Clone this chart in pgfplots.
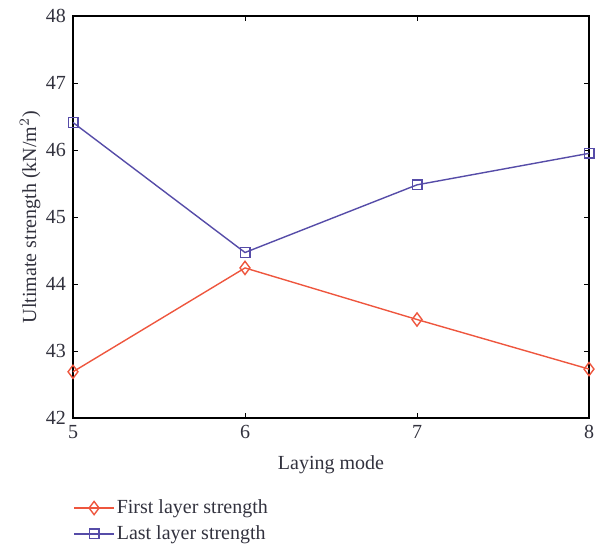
\documentclass[border=0pt]{standalone}
\usepackage{pgfplots}
\pgfplotsset{compat=1.18}
\usepackage{fontspec}
\setmainfont{Liberation Serif}
\definecolor{firstc}{RGB}{238,86,62}
\definecolor{lastc}{RGB}{86,76,168}
\definecolor{txt}{RGB}{50,50,62}
\begin{document}
\begin{tikzpicture}
\begin{axis}[
    width=258pt, height=201pt, scale only axis,
    xmin=5, xmax=8, ymin=42, ymax=48,
    xtick={5,6,7,8}, ytick={42,43,...,48},
    tick align=inside, major tick length=2.5pt,
    axis line style={line width=1.2pt},
    tick style={black, line width=0.5pt},
    xlabel={Laying mode},
    ylabel={Ultimate strength (kN/m$^2$)},
    font=\fontsize{10}{12}\selectfont,
    tick label style={font=\fontsize{10}{12}\selectfont, text=txt},
    label style={text=txt},
    /pgf/number format/assume math mode=true,
    xlabel style={at={(axis description cs:0.5,-0.117)}, anchor=center},
    ylabel style={at={(axis description cs:-0.083,0.5)}, anchor=center},
    legend style={at={(axis description cs:0,-0.197)}, anchor=north west,
        draw=none, fill=none, font=\fontsize{10}{12}\selectfont, text=txt,
        row sep=2.5pt, inner sep=0pt, nodes={inner sep=1pt}},
    legend image code/.code={
        \draw[mark repeat=2, mark phase=2] plot coordinates {(0pt,0pt) (10pt,0pt) (20pt,0pt)};},
    legend cell align=left,
    clip=false,
]
\addplot[firstc, line width=0.7pt, mark=diamond, mark size=3.3pt,
    mark options={solid, line width=0.7pt, fill=white}] coordinates {
    (5,42.69) (6,44.24) (7,43.47) (8,42.73)
};
\addlegendentry{First layer strength}
\addplot[lastc, line width=0.7pt, mark=square, mark size=2.4pt,
    mark options={solid, line width=0.7pt, fill=white}] coordinates {
    (5,46.41) (6,44.47) (7,45.48) (8,45.95)
};
\addlegendentry{Last layer strength}
\end{axis}
\pgfresetboundingbox
\path[use as bounding box] ([shift={(-36.5pt,-63pt)}]current axis.south west)
    rectangle ([shift={(3pt,8pt)}]current axis.north east);
\end{tikzpicture}
\end{document}
